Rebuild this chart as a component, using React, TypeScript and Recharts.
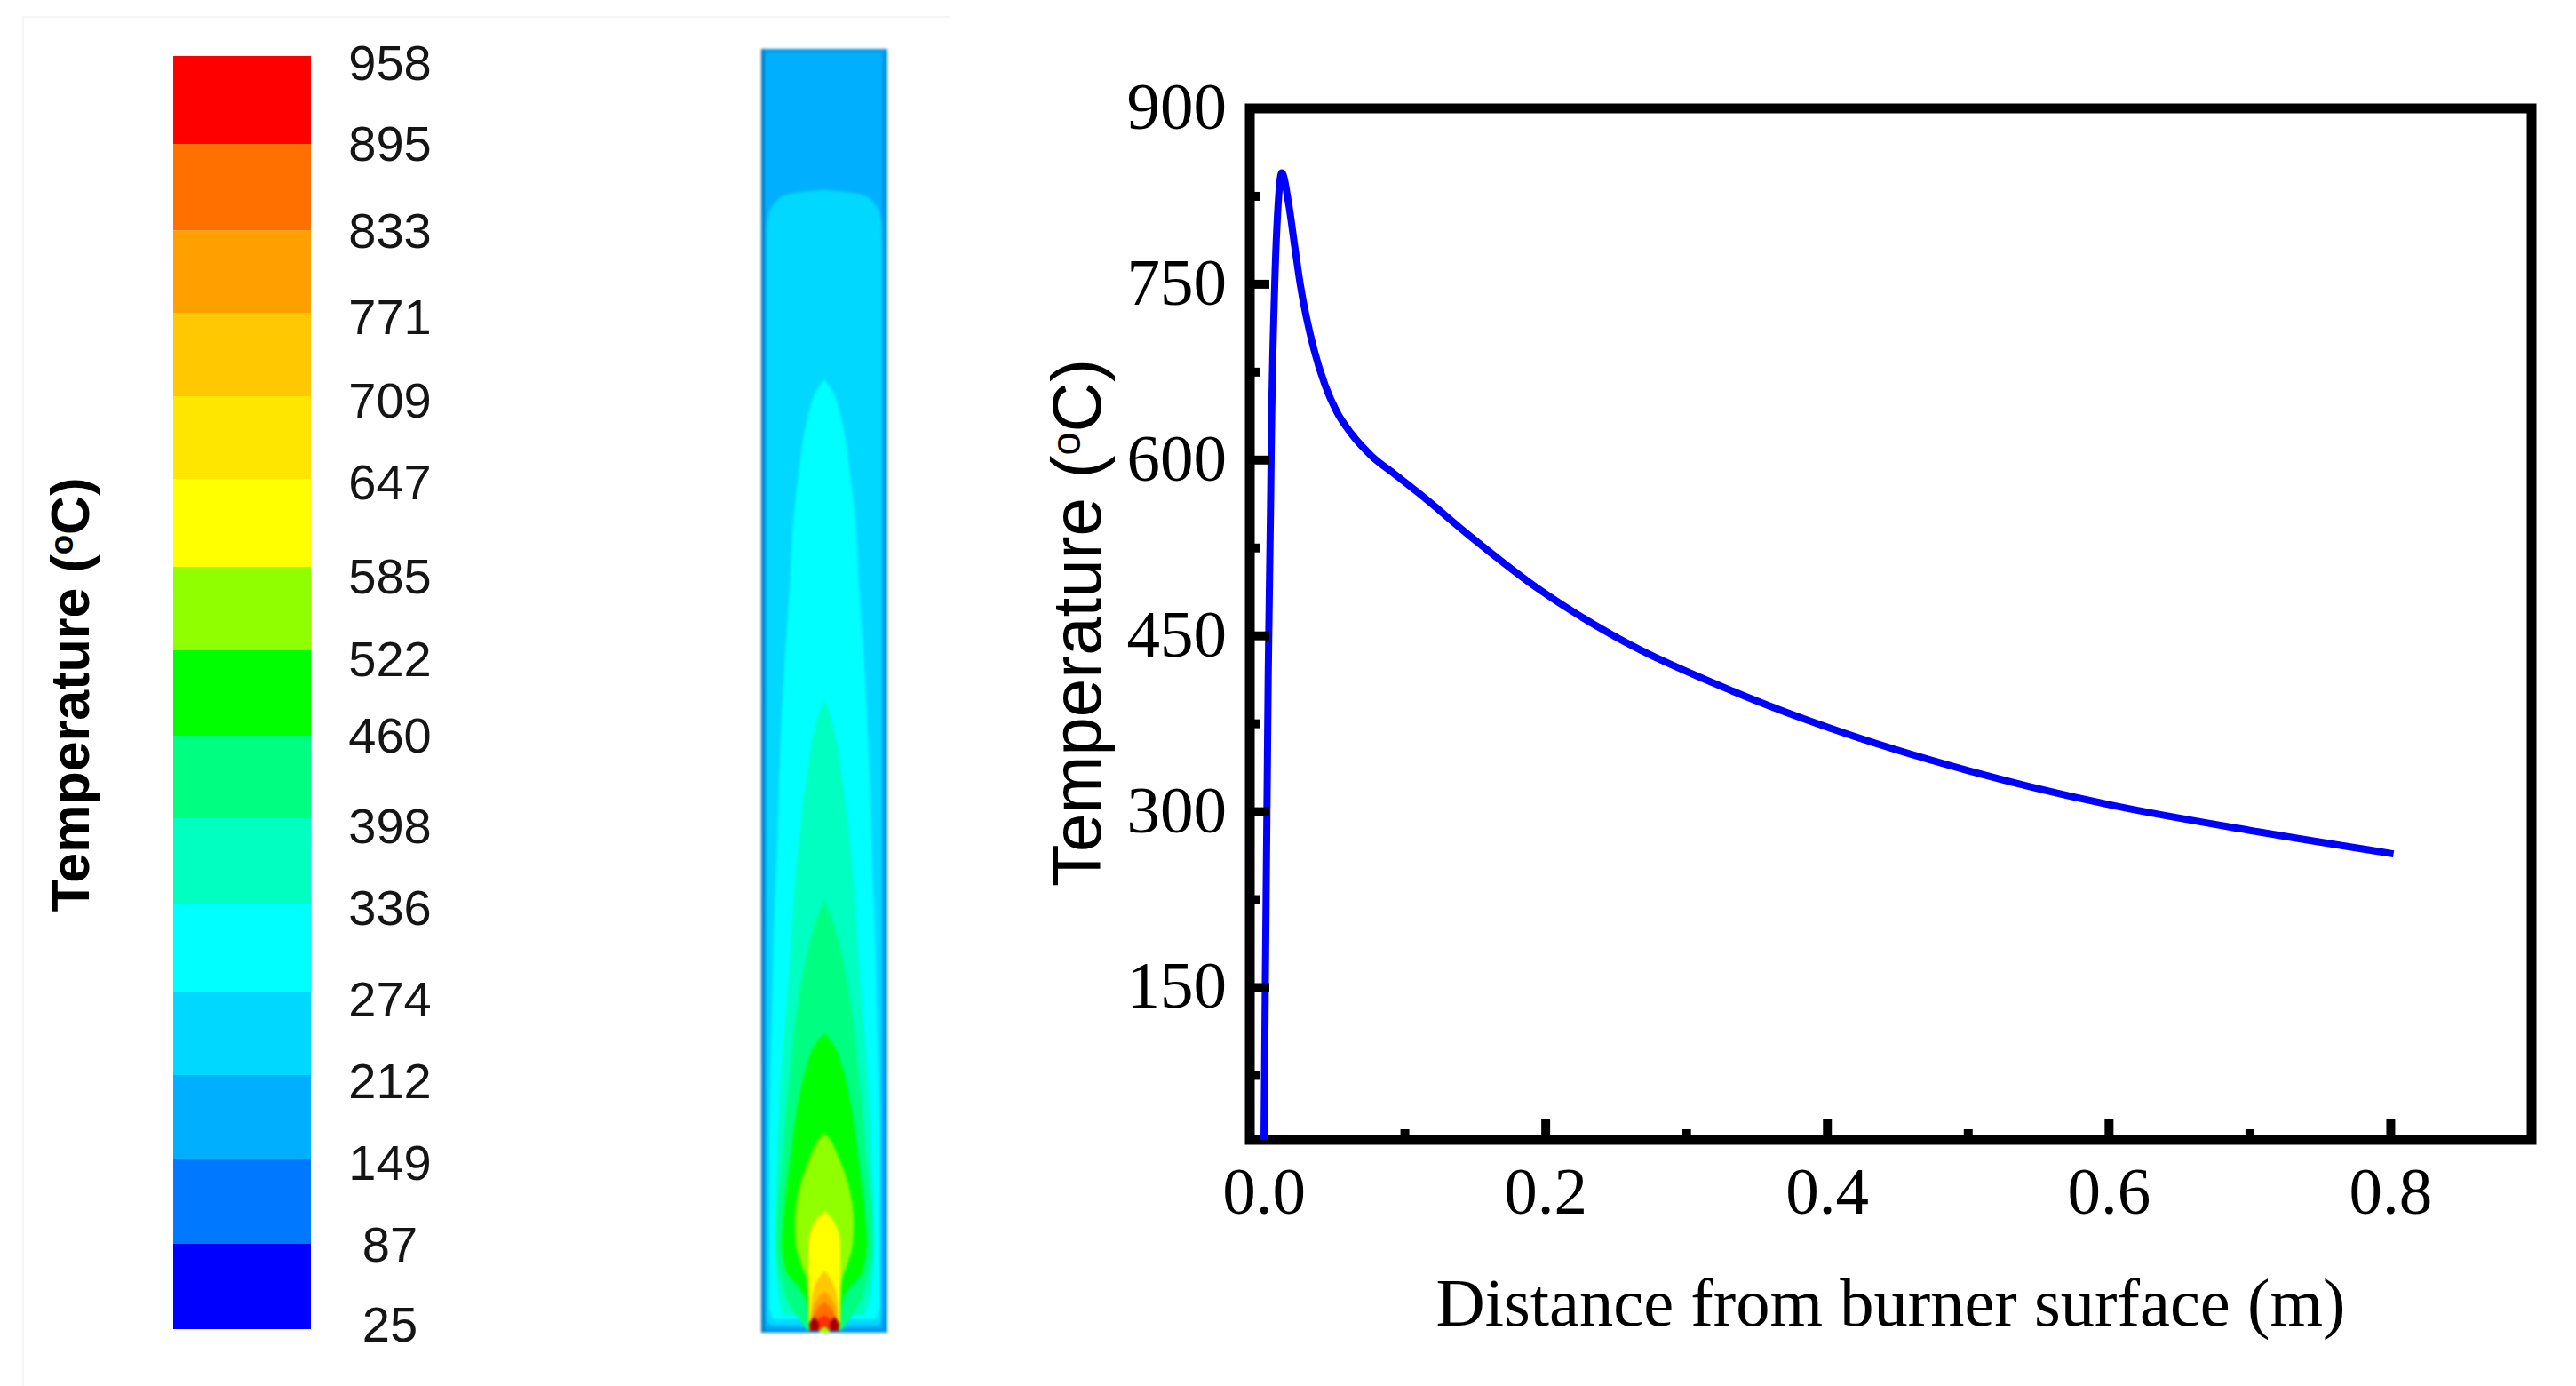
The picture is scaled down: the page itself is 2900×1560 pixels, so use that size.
import React from 'react';
import {
  Area,
  Bar,
  BarChart,
  ComposedChart,
  Line,
  LineChart,
  ReferenceArea,
  XAxis,
  YAxis,
} from 'recharts';

// colour bar: legend labels, top to bottom, and where each label sits on the bar (°C above 25)
const legendLabels = ['958', '895', '833', '771', '709', '647', '585', '522', '460', '398', '336', '274', '212', '149', '87', '25'];
const legendAnchors = [928, 868.4, 804.6, 741.5, 680.3, 620.4, 551.4, 490.9, 434.9, 368.5, 308.6, 241.5, 181.6, 121.7, 61.8, 3.3];

// colour bar bands, bottom to top
const bandSteps = [62.5, 62.5, 61.2, 61.2, 63.8, 63.2, 60.5, 62.5, 61.2, 64.5, 60.5, 61.2, 60.5, 63.2, 64.5];
const bandColors = ['#0000ff', '#0078ff', '#00b0ff', '#00d8ff', '#00ffff', '#00ffc0', '#00ff80', '#00ff00', '#90ff00', '#ffff00', '#ffe600', '#ffc800', '#ffa000', '#ff7000', '#ff0000'];

// temperature field: wall strips as [height, left, right]
const fieldWall = [[0, -71, 71], [1445, -71, 71]];
const fieldWallLeft = [[0, -71, -67.3], [1445, -71, -67.3]];
const fieldOuter = [[5, -67.3, 65], [1441, -67.3, 65]];

// temperature field: contours as [height above burner, half width]
const contour212 = [[8, 58], [12, 64], [30, 65], [1235, 65], [1257, 63], [1270, 57], [1280, 45], [1284, 25], [1286, 0]];
const contour274 = [[15, 58], [30, 62], [200, 62], [400, 58], [450, 57], [550, 53], [650, 50], [750, 45], [850, 38.5], [900, 36], [967, 29], [1033, 18], [1060, 9], [1073, 0]];
const contour336 = [[20, 45], [33, 50], [100, 56], [200, 53], [300, 48], [400, 40], [483, 35], [550, 29], [617, 21], [683, 10], [700, 5], [713, 0]];
const contour398 = [[3, 20], [10, 25], [33, 40], [67, 50], [100, 54], [200, 47], [300, 38], [400, 25], [433, 18], [467, 8], [487, 0]];
const contour460 = [[3, 18], [33, 20], [50, 28], [67, 42], [100, 48], [150, 44], [200, 38], [267, 28], [300, 20], [325, 10], [337, 0]];
const contour522 = [[3, 18], [33, 18], [60, 20], [77, 26], [100, 32], [123, 33], [167, 27], [200, 15], [215, 8], [225, 0]];
const contour585 = [[3, 17], [33, 18], [67, 18], [100, 18], [123, 12], [130, 7], [137, 0]];
const contour647 = [[3, 16], [30, 15], [55, 10], [70, 0]];
const contour709 = [[3, 15], [23, 14], [38, 8], [47, 0]];
const contour771 = [[3, 15], [15, 13], [28, 7], [35, 0]];
const contour895 = [[3, 15], [10, 13], [20, 0]];
const fieldLayers: [number[][], string][] = [
  [contour212, '#00d8ff'],
  [contour274, '#00ffff'],
  [contour336, '#00ffc0'],
  [contour398, '#00ff80'],
  [contour460, '#00ff00'],
  [contour522, '#90ff00'],
  [contour585, '#ffff00'],
  [contour647, '#ffc800'],
  [contour709, '#ffa000'],
  [contour771, '#ff7000'],
  [contour895, '#ff3000'],
];
// hot spots: [height, left, right]
const hotLeft = [[2, -16, -7], [9, -17, -6], [15, -14, -9], [18, -11.5, -11]];
const hotRight = [[2, 7, 16], [9, 6, 17], [15, 9, 14], [18, 11, 11.5]];
const burnerTip = [[0, -6, 6], [3, -5, 5], [7, 0, 0]];

// temperature profile along the axis
const distance = [0, 0.0009, 0.003, 0.0047, 0.005, 0.0076, 0.0101, 0.0126, 0.0173, 0.0217, 0.0257, 0.0353, 0.0433, 0.0517, 0.0623, 0.0759, 0.0927, 0.1096, 0.1474, 0.1937, 0.2484, 0.3325, 0.4, 0.5, 0.6, 0.7, 0.802];
const temperature = [20, 150, 420, 568, 600, 750, 820, 845, 820, 783, 750, 695, 664, 641, 622, 604, 588, 572, 534, 491, 450, 403, 372, 335, 306, 284, 264];
const profile = distance.map((d, i) => ({ d, t: temperature[i] }));

const xMajor = [0, 0.2, 0.4, 0.6, 0.8];
const xMinor = [0.1, 0.3, 0.5, 0.7];
const yMajor = [150, 300, 450, 600, 750, 900];
const yMinor = [75, 225, 375, 525, 675, 825];

const serif = '"Liberation Serif", serif';
const sans = '"Liberation Sans", sans-serif';

const bandRow = [Object.fromEntries(bandSteps.map((v, i) => ['b' + i, v]))];
const contourRows = (pts: number[][]) => pts.map(([h, w]) => ({ h, lo: -w, hi: w }));
const spotRows = (pts: number[][]) => pts.map(([h, lo, hi]) => ({ h, lo, hi }));
const range = (d: any) => [d.lo, d.hi];

const LegendTick = ({ x, y, index }: any) => (
  <text x={x + 89} y={y} dy={19} textAnchor="middle" fontFamily={sans} fontSize={56} fill="#151515">
    {legendLabels[index]}
  </text>
);

const XTick = ({ x, y, payload }: any) => {
  const major = xMajor.includes(payload.value);
  return (
    <g>
      {payload.value !== 0 && (
        <line x1={x} x2={x} y1={y} y2={y - (major ? 23 : 12)} stroke="#000" strokeWidth={10} />
      )}
      {major && (
        <text x={x} y={y + 83} textAnchor="middle" fontFamily={serif} fontSize={75} fill="#000">
          {payload.value.toFixed(1)}
        </text>
      )}
    </g>
  );
};

const YTick = ({ x, y, payload }: any) => {
  const major = yMajor.includes(payload.value);
  return (
    <g>
      <line x1={x} x2={x + (major ? 22 : 11)} y1={y} y2={y} stroke="#000" strokeWidth={10} />
      {major && (
        <text x={x - 26} y={y + 23} textAnchor="end" fontFamily={serif} fontSize={75} fill="#000">
          {payload.value}
        </text>
      )}
    </g>
  );
};

const tempTitle = (x: number, y: number, size: number, weight: string) => () => (
  <text
    transform={`translate(${x},${y}) rotate(-90)`}
    textAnchor="middle"
    fontFamily={sans}
    fontSize={size}
    fontWeight={weight}
    fill="#000"
  >
    Temperature (
    <tspan dy={-size * 0.3} fontSize={size * 0.6}>o</tspan>
    <tspan dy={size * 0.3}>C)</tspan>
  </text>
);

const fieldArea = (key: string, rows: any[], color: string) => (
  <Area
    key={key}
    data={rows}
    dataKey={range}
    type="monotone"
    fill={color}
    fillOpacity={1}
    stroke="none"
    dot={false}
    activeDot={false}
    isAnimationActive={false}
  />
);

export default function App() {
  return (
    <div style={{ position: 'absolute', left: 0, top: 0, width: 2900, height: 1560, overflow: 'hidden', background: '#fff' }}>
      <div style={{ position: 'absolute', left: 25, top: 18, width: 1042, height: 1542, borderTop: '2px solid #f5f5f5', borderLeft: '2px solid #f5f5f5' }} />

      <div style={{ position: 'absolute', left: 0, top: 20 }}>
        <BarChart
          width={560}
          height={1520}
          data={bandRow}
          barCategoryGap={0}
          margin={{ top: 43, right: 0, bottom: 44, left: 195 }}
        >
          <XAxis dataKey={() => 'T'} hide />
          <YAxis
            orientation="right"
            type="number"
            domain={[0, 933]}
            ticks={legendAnchors}
            interval={0}
            width={210}
            axisLine={false}
            tickLine={false}
            tickSize={0}
            tickMargin={0}
            tick={LegendTick}
            label={tempTitle(100, 762, 61, 'bold')}
          />
          {bandSteps.map((_, i) => (
            <Bar key={i} dataKey={'b' + i} stackId="bar" fill={bandColors[i]} isAnimationActive={false} />
          ))}
        </BarChart>
      </div>

      <div style={{ position: 'absolute', left: 857, top: 55, filter: 'blur(1.8px)' }}>
        <ComposedChart width={142} height={1445} layout="vertical" margin={{ top: 0, right: 0, bottom: 0, left: 0 }}>
          <XAxis type="number" domain={[-71, 71]} hide />
          <YAxis type="number" dataKey="h" domain={[0, 1445]} reversed hide />
          {fieldArea('wall', spotRows(fieldWall), '#0098e8')}
          {fieldArea('wallLeft', spotRows(fieldWallLeft), '#0078b8')}
          {fieldArea('outer', spotRows(fieldOuter), '#00b0ff')}
          {fieldLayers.map(([pts, color], i) => fieldArea('c' + i, contourRows(pts), color))}
          {fieldArea('hotLeft', spotRows(hotLeft), '#a00000')}
          {fieldArea('hotRight', spotRows(hotRight), '#a00000')}
          {fieldArea('tip', spotRows(burnerTip), '#90ff00')}
        </ComposedChart>
      </div>

      <div style={{ position: 'absolute', left: 1150, top: 60 }}>
        <LineChart width={1750} height={1500} data={profile} margin={{ top: 62, right: 50, bottom: 0, left: 0 }}>
          <XAxis
            dataKey="d"
            type="number"
            domain={[-0.0101, 0.9]}
            ticks={[...xMajor, ...xMinor].sort((a, b) => a - b)}
            interval={0}
            height={277}
            axisLine={false}
            tickLine={false}
            tickSize={0}
            tickMargin={0}
            tick={XTick}
            label={{
              value: 'Distance from burner surface (m)',
              position: 'insideTop',
              offset: 155,
              fontFamily: serif,
              fontSize: 76.5,
              fill: '#000',
            }}
          />
          <YAxis
            type="number"
            domain={[20, 900]}
            ticks={[...yMinor, ...yMajor].sort((a, b) => a - b)}
            interval={0}
            width={257}
            axisLine={false}
            tickLine={false}
            tickSize={0}
            tickMargin={0}
            tick={YTick}
            label={tempTitle(89, 641, 78, 'normal')}
          />
          <ReferenceArea x1={-0.0101} x2={0.9} y1={20} y2={900} fill="none" stroke="#000" strokeWidth={11} />
          <Line dataKey="t" type="monotone" stroke="#0000ff" strokeWidth={8} dot={false} activeDot={false} isAnimationActive={false} />
        </LineChart>
      </div>
    </div>
  );
}
